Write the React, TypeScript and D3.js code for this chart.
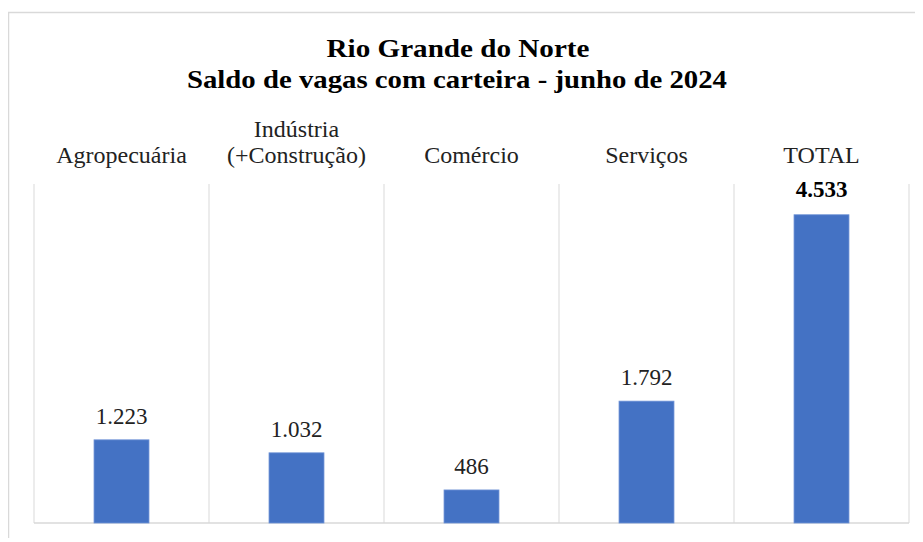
import React from "react";
import * as d3 from "d3";

const categories: string[][] = [
  ["Agropecuária"],
  ["Indústria", "(+Construção)"],
  ["Comércio"],
  ["Serviços"],
  ["TOTAL"],
];
const values: number[] = [1223, 1032, 486, 1792, 4533];
const titleLines: string[] = ["Rio Grande do Norte", "Saldo de vagas com carteira - junho de 2024"];

const W = 923;
const H = 542;
const FONT = "Liberation Serif";

export default function App() {
  const left = 34;
  const right = 909;
  const top = 184;
  const bottom = 523;
  const idx = categories.map((_, i) => String(i));
  const x = d3.scaleBand<string>().domain(idx).range([left, right]).padding(0);
  const y = d3.scaleLinear().domain([0, 5000]).range([bottom, top - 1]);
  const bw = x.bandwidth() * 0.314;
  const fmt = (v: number) => d3.format(",")(v).replace(/,/g, ".");

  return (
    <div style={{ margin: -8 }}>
      <svg width={W} height={H} fontFamily={FONT}>
        <rect x={8.5} y={12.5} width={940} height={560} fill="#fff" stroke="#d9d9d9" strokeWidth={1.5} />
        <text x={458} y={57} textAnchor="middle" fontFamily={FONT} fontWeight="bold" fontSize={25}
          textLength={263} lengthAdjust="spacingAndGlyphs" fill="#000">{titleLines[0]}</text>
        <text x={457} y={88} textAnchor="middle" fontFamily={FONT} fontWeight="bold" fontSize={25}
          textLength={540} lengthAdjust="spacingAndGlyphs" fill="#000">{titleLines[1]}</text>
        {idx.map((k) => (
          <line key={"v" + k} x1={x(k)!} x2={x(k)!} y1={top} y2={bottom} stroke="#d9d9d9" strokeWidth={1} />
        ))}
        <line x1={right} x2={right} y1={top} y2={bottom} stroke="#d9d9d9" strokeWidth={1} />
        <line x1={left} x2={right} y1={bottom} y2={bottom} stroke="#d9d9d9" strokeWidth={1.5} />
        {categories.map((lines, i) => {
          const cx = x(String(i))! + x.bandwidth() / 2;
          return (
            <text key={"c" + i} x={cx} textAnchor="middle" fontFamily={FONT} fontSize={24} fill="#222">
              {lines.map((ln, j) => (
                <tspan key={j} x={cx} y={163 - (lines.length - 1 - j) * 26}>{ln}</tspan>
              ))}
            </text>
          );
        })}
        {values.map((v, i) => {
          const cx = x(String(i))! + x.bandwidth() / 2;
          const isTotal = i === values.length - 1;
          return (
            <g key={"b" + i}>
              <rect x={cx - bw / 2} y={y(v)} width={bw} height={bottom - y(v)} fill="#4472C4" stroke="#6f93d6" strokeWidth={0.8} />
              <text x={cx} y={y(v) - (isTotal ? 18 : 16)} textAnchor="middle" fontFamily={FONT}
                fontSize={23} fontWeight={isTotal ? "bold" : "normal"} fill={isTotal ? "#000" : "#222"}>{fmt(v)}</text>
            </g>
          );
        })}
      </svg>
    </div>
  );
}
